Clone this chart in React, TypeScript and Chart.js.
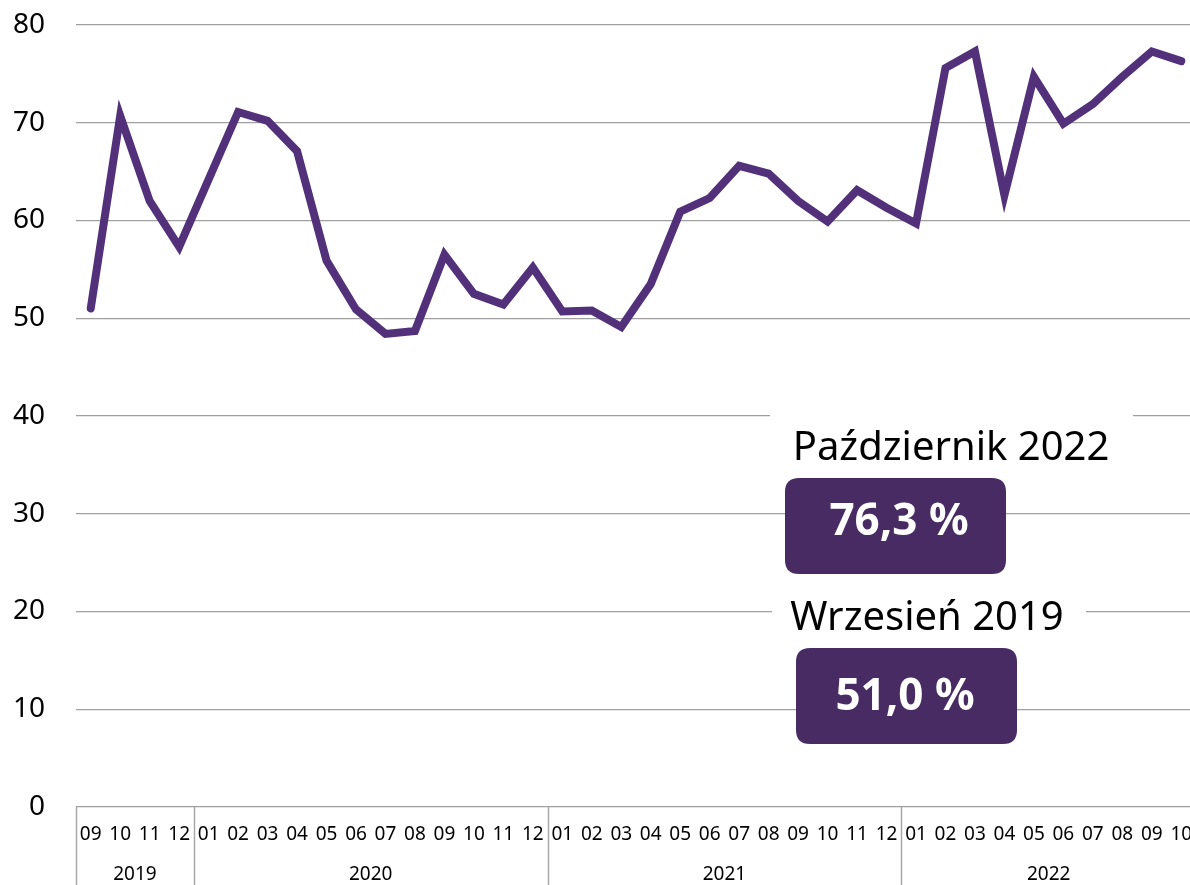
import React, { useEffect, useRef } from "react";
import { Chart, registerables } from "chart.js";

Chart.register(...registerables);

const monthLabels = [
  "09", "10", "11", "12",
  "01", "02", "03", "04", "05", "06", "07", "08", "09", "10", "11", "12",
  "01", "02", "03", "04", "05", "06", "07", "08", "09", "10", "11", "12",
  "01", "02", "03", "04", "05", "06", "07", "08", "09", "10",
];
const yearLabels = ["2019", "2020", "2021", "2022"];
const yearMonthCounts = [4, 12, 12, 10];
const values = [
  51.0, 70.7, 62.0, 57.3,
  64.2, 71.1, 70.2, 67.1, 55.9, 50.9, 48.4, 48.7, 56.5, 52.5, 51.4, 55.2,
  50.7, 50.8, 49.1, 53.5, 60.9, 62.3, 65.6, 64.8, 62.0, 59.9, 63.1, 61.3,
  59.7, 75.6, 77.3, 62.6, 74.7, 69.9, 71.9, 74.7, 77.3, 76.3,
];
const yTicks = [0, 10, 20, 30, 40, 50, 60, 70, 80];
const latestTitle = "Październik 2022";
const firstTitle = "Wrzesień 2019";

const FONT = "'Noto Sans', sans-serif";
const LINE_COLOR = "#53307a";
const BOX_COLOR = "#482b63";

function fmt(v: number) {
  return v.toFixed(1).replace(".", ",") + " %";
}

function roundRect(ctx: CanvasRenderingContext2D, x: number, y: number, w: number, h: number, r: number) {
  ctx.beginPath();
  ctx.moveTo(x + r, y);
  ctx.lineTo(x + w - r, y);
  ctx.quadraticCurveTo(x + w, y, x + w, y + r);
  ctx.lineTo(x + w, y + h - r);
  ctx.quadraticCurveTo(x + w, y + h, x + w - r, y + h);
  ctx.lineTo(x + r, y + h);
  ctx.quadraticCurveTo(x, y + h, x, y + h - r);
  ctx.lineTo(x, y + r);
  ctx.quadraticCurveTo(x, y, x + r, y);
  ctx.closePath();
}

const yearPlugin = {
  id: "yearGroups",
  afterDraw(chart: any) {
    const ctx: CanvasRenderingContext2D = chart.ctx;
    const xs = chart.scales.x;
    const area = chart.chartArea;
    const half = (xs.getPixelForValue(1) - xs.getPixelForValue(0)) / 2;
    ctx.save();
    ctx.strokeStyle = "#a8a8a8";
    ctx.lineWidth = 1.5;
    ctx.fillStyle = "#000";
    ctx.font = `19px ${FONT}`;
    ctx.textAlign = "center";
    ctx.textBaseline = "middle";
    let start = 0;
    yearLabels.forEach((y, i) => {
      const n = yearMonthCounts[i];
      const left = xs.getPixelForValue(start) - half;
      const right = xs.getPixelForValue(start + n - 1) + half;
      ctx.beginPath();
      ctx.moveTo(Math.round(left) + 0.5, area.bottom);
      ctx.lineTo(Math.round(left) + 0.5, chart.height);
      ctx.stroke();
      ctx.fillText(y, (left + right) / 2, area.bottom + 68);
      start += n;
    });
    ctx.restore();
  },
};

const annotationPlugin = {
  id: "callouts",
  afterDraw(chart: any) {
    const ctx: CanvasRenderingContext2D = chart.ctx;
    ctx.save();
    ctx.fillStyle = "#fff";
    ctx.fillRect(770, 405, 363, 30);
    ctx.fillRect(772, 598, 314, 30);
    ctx.fillStyle = "#000";
    ctx.textAlign = "center";
    ctx.textBaseline = "alphabetic";
    ctx.font = `40px ${FONT}`;
    ctx.fillText(latestTitle, 951, 460);
    ctx.fillText(firstTitle, 927, 630);
    ctx.fillStyle = BOX_COLOR;
    roundRect(ctx, 785, 478, 221, 96, 14);
    ctx.fill();
    roundRect(ctx, 796, 648, 221, 96, 14);
    ctx.fill();
    ctx.fillStyle = "#fff";
    ctx.font = `bold 44px ${FONT}`;
    ctx.fillText(fmt(values[values.length - 1]), 899, 535);
    ctx.fillText(fmt(values[0]), 905, 710);
    ctx.restore();
  },
};

export default function App() {
  const ref = useRef<HTMLCanvasElement>(null);
  useEffect(() => {
    if (!ref.current) return;
    const chart = new Chart(ref.current, {
      type: "line",
      data: {
        labels: monthLabels,
        datasets: [
          {
            data: values,
            borderColor: LINE_COLOR,
            borderWidth: 8,
            pointRadius: 0,
            tension: 0,
            borderCapStyle: "round",
            fill: false,
          },
        ],
      },
      options: {
        animation: false,
        responsive: false,
        devicePixelRatio: 1,
        layout: { padding: { top: 25, right: 4, left: 0, bottom: 0 } },
        plugins: { legend: { display: false }, tooltip: { enabled: false } },
        scales: {
          x: {
            offset: true,
            grid: { display: false, drawTicks: false },
            border: { display: false },
            ticks: {
              autoSkip: false,
              maxRotation: 0,
              minRotation: 0,
              color: "#000",
              font: { family: FONT, size: 19 },
              padding: 16,
            },
            afterFit: (s: any) => {
              s.height = 78;
              s.paddingLeft = 0;
              s.paddingRight = 0;
            },
          },
          y: {
            min: 0,
            max: 80,
            afterBuildTicks: (s: any) => {
              s.ticks = yTicks.map((v) => ({ value: v }));
            },
            grid: { color: "#a0a0a0", lineWidth: 1.2, drawTicks: false },
            border: { display: false },
            ticks: {
              color: "#000",
              font: { family: FONT, size: 28 },
              padding: 31,
            },
            afterFit: (s: any) => {
              s.width = 76;
              s.paddingTop = 0;
              s.paddingBottom = 0;
            },
          },
        },
      },
      plugins: [yearPlugin, annotationPlugin],
    });
    return () => chart.destroy();
  }, []);
  return (
    <div style={{ position: "fixed", left: 0, top: 0, width: 1190, height: 885, overflow: "hidden", background: "#fff" }}>
      <canvas ref={ref} width={1200} height={885} style={{ width: 1200, height: 885, display: "block" }} />
    </div>
  );
}
